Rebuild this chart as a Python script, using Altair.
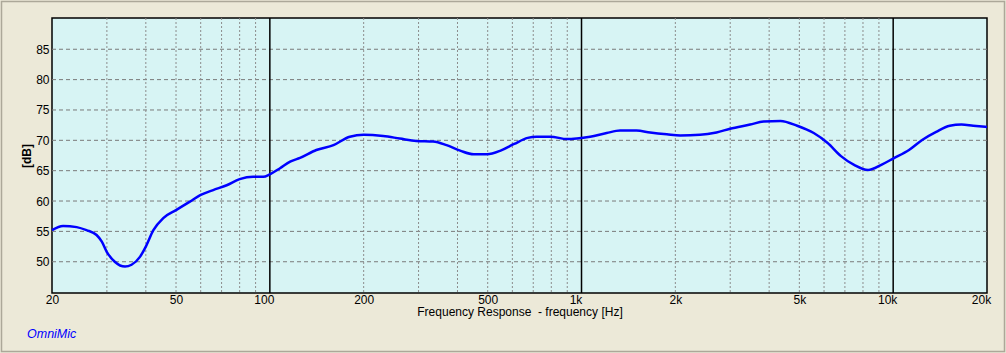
import altair as alt
import pandas as pd

# ---- data ----
freq_hz = [20, 21.7, 24.0, 25.8, 27.8, 28.9, 30, 31.8, 34.3, 36.0, 38.3, 40, 42.3, 45.5,
           50, 55.4, 60, 65.8, 72.7, 80, 88.4, 95.2, 100, 107.8, 116.2, 125,
           141, 160, 180.6, 200, 231, 261, 295, 334, 369, 408, 451, 498, 550, 608, 672,
           718, 794, 900, 966, 1066, 1204, 1330, 1500, 1660,
           1878, 2074, 2400, 2710, 2996, 3476, 3840, 4350, 4920, 5560, 6150, 6800, 7516,
           8310, 9190, 10000, 11240, 12420, 13740, 15190, 16570, 18060, 20000]
level_db = [55.2, 55.9, 55.7, 55.2, 54.4, 53.3, 51.6, 50.0, 49.2, 49.5, 50.8, 52.5, 55.2, 57.2,
            58.5, 59.9, 61.0, 61.8, 62.6, 63.6, 64.0, 64.0, 64.4, 65.4, 66.5, 67.1,
            68.4, 69.2, 70.6, 70.9, 70.7, 70.3, 69.9, 69.8, 69.2, 68.3, 67.7, 67.7, 68.3, 69.4, 70.4,
            70.6, 70.6, 70.2, 70.3, 70.6, 71.2, 71.6, 71.6, 71.3,
            71.0, 70.8, 70.9, 71.3, 71.9, 72.6, 73.1, 73.2, 72.4, 71.2, 69.6, 67.4, 65.9,
            65.1, 66.0, 67.0, 68.4, 70.1, 71.4, 72.4, 72.6, 72.4, 72.2]

x_tick_values = [20, 50, 100, 200, 500, 1000, 2000, 5000, 10000, 20000]
y_tick_values = [50, 55, 60, 65, 70, 75, 80, 85]
minor_grid_hz = [30, 40, 50, 60, 70, 80, 90,
                 200, 300, 400, 500, 600, 700, 800, 900,
                 2000, 3000, 4000, 5000, 6000, 7000, 8000, 9000]
decade_hz = [100, 1000, 10000]
x_title = "Frequency Response \u00a0- frequency [Hz]"
y_title = "[dB]"
brand = ["OmniMic"]

X_DOMAIN = [20, 20000]
Y_DOMAIN = [44.85, 90.15]

curve_df = pd.DataFrame({"freq": freq_hz, "db": level_db})
hgrid_df = pd.DataFrame({"db": y_tick_values})
vgrid_df = pd.DataFrame({"freq": minor_grid_hz})
decade_df = pd.DataFrame({"freq": decade_hz})
brand_df = pd.DataFrame({"label": brand})
frame_df = pd.DataFrame({"k": [0]})

xscale = alt.Scale(type="log", domain=X_DOMAIN, nice=False)
yscale = alt.Scale(domain=Y_DOMAIN, nice=False, zero=False)

x_axis = alt.Axis(
    values=x_tick_values,
    labelExpr="datum.value >= 1000 ? (datum.value / 1000) + 'k' : datum.value",
    grid=False, ticks=False, domain=False,
    labelPadding=1, labelFont="Liberation Sans", labelFontSize=12, labelColor="#000000",
    labelOffset={"condition": {"test": "datum.value == 100 || datum.value == 1000 || datum.value == 10000 || datum.value == 20000", "value": -6}, "value": 0},
    labelFlush=False, labelOverlap=False,
    title=x_title, titleFont="Liberation Sans", titleFontSize=12, titleFontWeight="normal",
    titleColor="#000000", titlePadding=1,
)
y_axis = alt.Axis(
    values=y_tick_values, grid=False, ticks=False, domain=False,
    labelPadding=3, labelFont="Liberation Sans", labelFontSize=12, labelColor="#000000",
    title=y_title, titleFont="Liberation Sans", titleFontSize=12, titleFontWeight="bold",
    titleColor="#000000", titlePadding=2,
)

X = alt.X("freq:Q", scale=xscale, axis=x_axis, title=x_title)
Y = alt.Y("db:Q", scale=yscale, axis=y_axis, title=y_title)

hgrid = alt.Chart(hgrid_df).mark_rule(
    color="#7a7a7a", strokeWidth=1, strokeDash=[4, 3]
).encode(y=Y)

vgrid = alt.Chart(vgrid_df).mark_rule(
    color="#8c8c8c", strokeWidth=1, strokeDash=[2, 2]
).encode(x=X)

decades = alt.Chart(decade_df).mark_rule(
    color="#000000", strokeWidth=1.5
).encode(x=X)

curve = alt.Chart(curve_df).mark_line(
    color="#0000ff", strokeWidth=2.5, interpolate="monotone"
).encode(x=X, y=Y)

frame = alt.Chart(frame_df).mark_rect(
    fill=None, stroke="#aca899", strokeWidth=1.5
).encode(
    x=alt.value(-50.5), x2=alt.value(952.5),
    y=alt.value(-16.5), y2=alt.value(333.5),
)

brand_text = alt.Chart(brand_df).mark_text(
    align="left", baseline="alphabetic", font="Liberation Sans", fontSize=12.5,
    fontStyle="italic", color="#0000ff"
).encode(
    text="label:N", x=alt.value(-25), y=alt.value(320),
)

chart = alt.layer(hgrid, vgrid, decades, curve, frame, brand_text).properties(
    width=935, height=275,
    autosize=alt.AutoSizeParams(type="none"),
    padding={"left": 52, "top": 18, "right": 19, "bottom": 60},
    background="#ece9d8",
).configure_view(
    fill="#d7f4f4", stroke="#000000", strokeWidth=1.5
)

chart.save("out.html", embed_options={"renderer": "svg", "actions": False})
